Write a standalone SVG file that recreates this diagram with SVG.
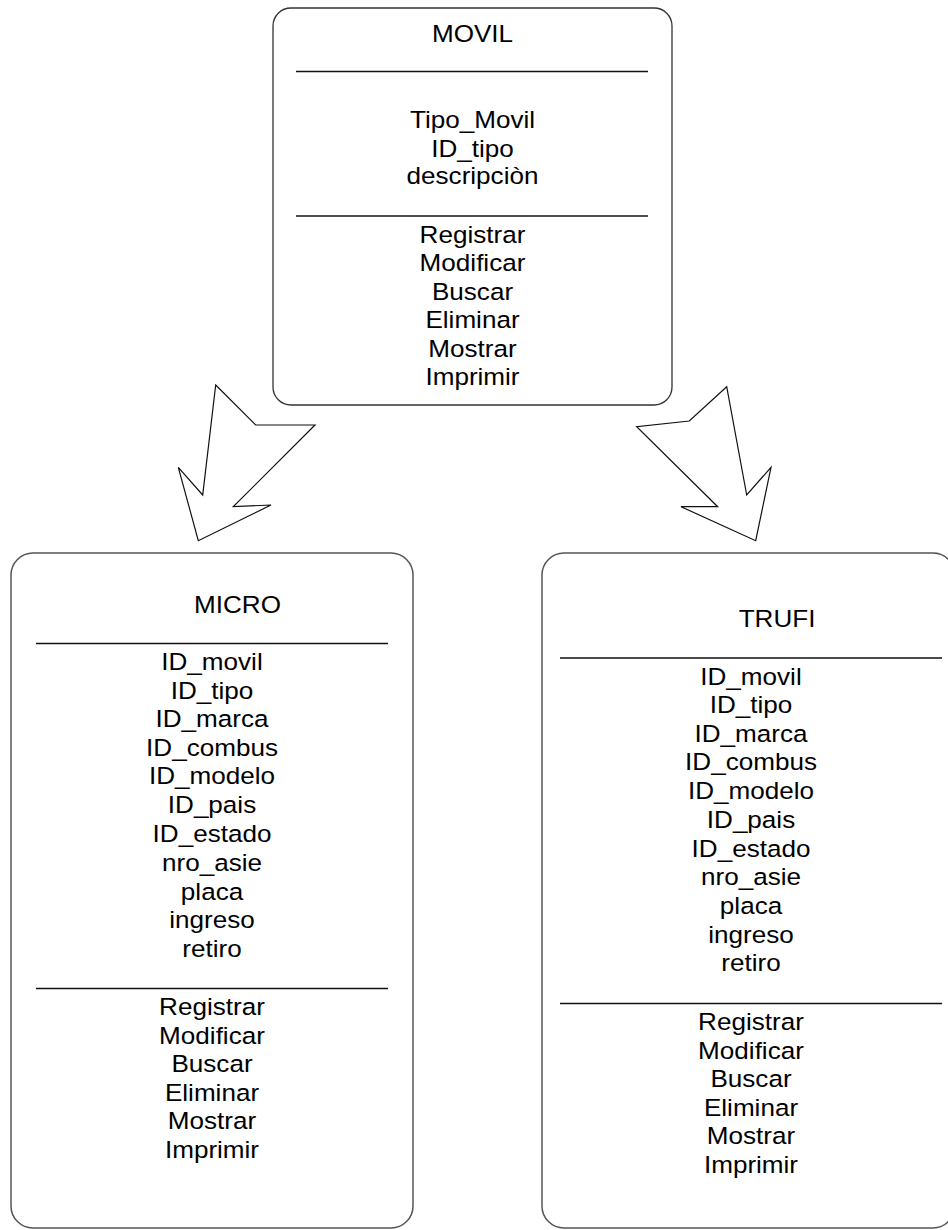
<svg xmlns="http://www.w3.org/2000/svg" width="948" height="1230" viewBox="0 0 948 1230">
  <style>
    .box { fill: #ffffff; stroke: #333333; stroke-width: 1.3; }
    .box2 { fill: #ffffff; stroke: #555555; stroke-width: 1.5; }
    .sep { stroke: #111111; stroke-width: 1.3; }
    .arrow { fill: #ffffff; stroke: #111111; stroke-width: 1.2; stroke-linejoin: miter; }
    text { font-family: "Liberation Sans", Arial, sans-serif; font-size: 23.5px; fill: #000000; text-anchor: middle; }
  </style>
  <rect width="948" height="1230" fill="#ffffff"/>

  <!-- inheritance arrows -->
  <g id="connectors">
    <polygon class="arrow" points="215.7,385 255.7,425 315,425 233.3,506.7 271,505 198.3,540.7 178.3,467.3 202.7,495"/>
    <polygon class="arrow" points="726.7,386.7 689.3,421 636.7,426.7 717.7,506.7 681,506.7 755.7,540.7 771,467.3 746.7,495"/>
  </g>

  <!-- base class -->
  <g id="movil">
    <rect class="box" x="273" y="8" width="399" height="397" rx="18" ry="18"/>
    <line class="sep" x1="296" y1="71.5" x2="648" y2="71.5"/>
    <line class="sep" x1="296" y1="216" x2="648" y2="216"/>
    <g transform="translate(472.5,0) scale(1.11,1)">
      <text x="0" y="41.7">MOVIL</text>
      <text x="0" y="128.3">Tipo_Movil</text>
      <text x="0" y="156.7">ID_tipo</text>
      <text x="0" y="184.5">descripciòn</text>
      <text x="0" y="242.7">Registrar</text>
      <text x="0" y="271.2">Modificar</text>
      <text x="0" y="299.7">Buscar</text>
      <text x="0" y="328.2">Eliminar</text>
      <text x="0" y="356.7">Mostrar</text>
      <text x="0" y="385.2">Imprimir</text>
    </g>
  </g>

  <!-- subclass MICRO -->
  <g id="micro">
    <rect class="box2" x="11" y="553" width="402" height="675" rx="22" ry="22"/>
    <line class="sep" x1="36" y1="643.5" x2="388" y2="643.5"/>
    <line class="sep" x1="36" y1="988.5" x2="388" y2="988.5"/>
    <g transform="translate(237.5,0) scale(1.11,1)">
      <text x="0" y="613.3">MICRO</text>
    </g>
    <g transform="translate(212,0) scale(1.11,1)">
      <text x="0" y="670">ID_movil</text>
      <text x="0" y="698.6">ID_tipo</text>
      <text x="0" y="727.2">ID_marca</text>
      <text x="0" y="755.8">ID_combus</text>
      <text x="0" y="784.4">ID_modelo</text>
      <text x="0" y="813.5">ID_pais</text>
      <text x="0" y="842.3">ID_estado</text>
      <text x="0" y="871">nro_asie</text>
      <text x="0" y="899.6">placa</text>
      <text x="0" y="928.2">ingreso</text>
      <text x="0" y="956.7">retiro</text>
      <text x="0" y="1015">Registrar</text>
      <text x="0" y="1043.6">Modificar</text>
      <text x="0" y="1072.2">Buscar</text>
      <text x="0" y="1100.8">Eliminar</text>
      <text x="0" y="1129.3">Mostrar</text>
      <text x="0" y="1157.8">Imprimir</text>
    </g>
  </g>

  <!-- subclass TRUFI -->
  <g id="trufi">
    <rect class="box2" x="542" y="553" width="413" height="675" rx="22" ry="22"/>
    <line class="sep" x1="560" y1="658" x2="942" y2="658"/>
    <line class="sep" x1="560" y1="1003.5" x2="942" y2="1003.5"/>
    <g transform="translate(777,0) scale(1.11,1)">
      <text x="0" y="626.7">TRUFI</text>
    </g>
    <g transform="translate(751,0) scale(1.11,1)">
      <text x="0" y="685">ID_movil</text>
      <text x="0" y="713.5">ID_tipo</text>
      <text x="0" y="742">ID_marca</text>
      <text x="0" y="770.5">ID_combus</text>
      <text x="0" y="799">ID_modelo</text>
      <text x="0" y="828">ID_pais</text>
      <text x="0" y="856.8">ID_estado</text>
      <text x="0" y="885.5">nro_asie</text>
      <text x="0" y="914">placa</text>
      <text x="0" y="942.7">ingreso</text>
      <text x="0" y="971.2">retiro</text>
      <text x="0" y="1030">Registrar</text>
      <text x="0" y="1058.6">Modificar</text>
      <text x="0" y="1087.2">Buscar</text>
      <text x="0" y="1115.8">Eliminar</text>
      <text x="0" y="1144.3">Mostrar</text>
      <text x="0" y="1172.8">Imprimir</text>
    </g>
  </g>
</svg>
